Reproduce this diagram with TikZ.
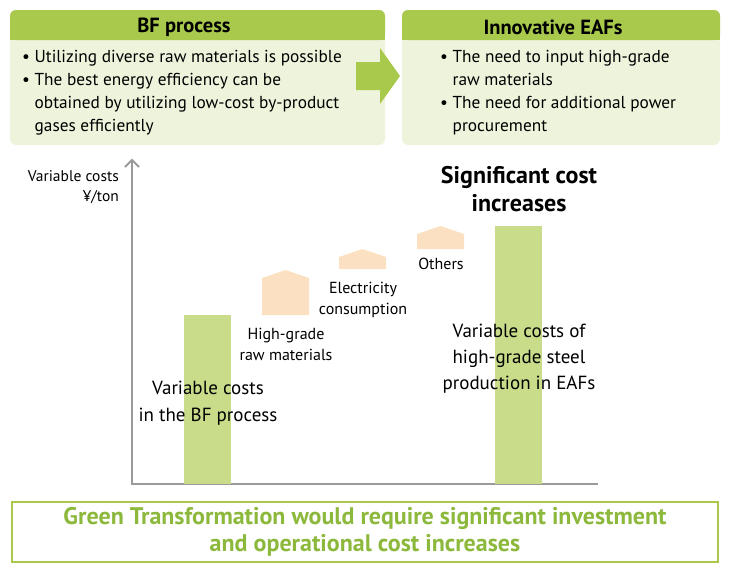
\documentclass[tikz,border=0pt]{standalone}
\usepackage{fontspec}
\setmainfont{PT Sans}
\definecolor{gxHead}{HTML}{A8C94C}
\definecolor{gxBody}{HTML}{EEF4DC}
\definecolor{gxBar}{HTML}{C8DC8A}
\definecolor{gxHouse}{HTML}{FCE0C2}
\definecolor{gxAxis}{HTML}{9A9A9A}
\definecolor{gxText}{HTML}{8CB83C}
\tikzset{
  bodybox/.style={fill=gxBody,rounded corners=6pt},
  headbox/.style={fill=gxHead,rounded corners=6pt},
  bullets/.style={anchor=north west,align=left,font=\fontsize{17.3}{23}\selectfont,inner sep=0pt},
  bar/.style={fill=gxBar},
  house/.style={fill=gxHouse},
  lbl/.style={align=center,font=\fontsize{15}{22}\selectfont,inner sep=0pt},
  small/.style={align=center,font=\fontsize{16}{19}\selectfont,inner sep=0pt}
}
\begin{document}
\begin{tikzpicture}[x=1pt,y=-1pt]
\useasboundingbox (0,0) rectangle (729,570);
% top boxes
\fill[bodybox] (10,10) rectangle (385,145);
\fill[headbox] (10,10) rectangle (385,40);
\fill[gxHead] (10,32) rectangle (385,40);
\node[font=\fontsize{20.5}{20}\selectfont\bfseries] (bfhead) at (184,27) {BF process};
\node[bullets] (bftext) at (22,50) {• Utilizing diverse raw materials is possible\\• The best energy efficiency can be\\\phantom{• }obtained by utilizing low-cost by-product\\\phantom{• }gases efficiently};
\fill[bodybox] (402,10) rectangle (720,145);
\fill[headbox] (402,10) rectangle (720,40);
\fill[gxHead] (402,32) rectangle (720,40);
\node[font=\fontsize{20.5}{20}\selectfont\bfseries] (eafhead) at (553,27) {Innovative EAFs};
\node[bullets] (eaftext) at (440,50) {• The need to input high-grade\\\phantom{• }raw materials\\• The need for additional power\\\phantom{• }procurement};
% arrow
\fill[gxHead] (356,62) -- (380,62) -- (380,48) -- (400,76) -- (380,104) -- (380,90) -- (356,90) -- cycle;
% axes
\coordinate (org) at (132,484);
\coordinate (ytop) at (132,160);
\coordinate (xend) at (598,484);
\draw[gxAxis,line width=2.5pt] (ytop) -- (org) -- (xend);
\draw[gxAxis,line width=2pt] (125,167) -- (ytop) -- (139,167);
\node[small,align=right,anchor=east,font=\fontsize{15.5}{20}\selectfont] (ylbl) at (119,187) {Variable costs\\¥/ton};
% bars
\fill[bar] (184,315) rectangle (231,484);
\fill[bar] (495,226) rectangle (542,484);
% houses
\fill[house] (262,315) -- (262,278) -- (285.5,270) -- (309,278) -- (309,315) -- cycle;
\fill[house] (339,269) -- (339,257) -- (362.5,249) -- (386,257) -- (386,269) -- cycle;
\fill[house] (417,249) -- (417,234) -- (440.5,226) -- (464,234) -- (464,249) -- cycle;
% labels
\node[small] (others) at (441,264) {Others};
\node[small,font=\fontsize{16}{21}\selectfont] (elec) at (363,300) {Electricity\\consumption};
\node[small,font=\fontsize{16}{21}\selectfont] (hgrade) at (286,344) {High-grade\\raw materials};
\node[lbl,font=\fontsize{19}{27}\selectfont] (bfvar) at (208,403) {Variable costs\\in the BF process};
\node[lbl,font=\fontsize{19}{26}\selectfont] (eafvar) at (519,359) {Variable costs of\\high-grade steel\\production in EAFs};
\node[lbl,font=\fontsize{24}{28}\selectfont\bfseries] (sig) at (519,189) {Significant cost\\increases};
% bottom
\draw[gxHead,line width=2pt] (12,502) rectangle (718,562);
\node[lbl,text=gxText,font=\fontsize{24}{27}\selectfont\bfseries] (gx) at (365,532) {Green Transformation would require significant investment\\and operational cost increases};
\end{tikzpicture}
\end{document}
